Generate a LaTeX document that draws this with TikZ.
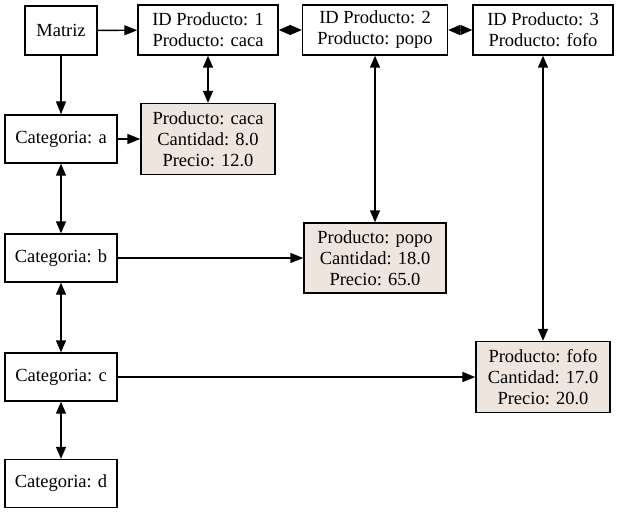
\documentclass[tikz,border=0pt]{standalone}
\usepackage{fontspec}
\setmainfont{Liberation Serif}
\usetikzlibrary{arrows.meta}
\definecolor{prodfill}{HTML}{EEE5DE}
\begin{document}
\begin{tikzpicture}[x=1pt,y=-1pt,
 box/.style={draw, line width=1.4pt, inner sep=0pt, align=center, font=\fontsize{18.5}{21}\selectfont},
 catbox/.style={box, minimum width=112pt, minimum height=48pt},
 idbox/.style={box, minimum height=50pt},
 prod/.style={box, fill=prodfill, minimum height=71pt},
 conn/.style={line width=1.4pt, -{Triangle[length=13pt,width=10pt]}},
 bi/.style={line width=1.4pt, {Triangle[length=12pt,width=10pt]}-{Triangle[length=12pt,width=10pt]}}]
\useasboundingbox (0,0) rectangle (617,513);
\node[box, minimum width=72pt, minimum height=49pt] (m) at (61,30.5) {Matriz};
\node[idbox, minimum width=140pt] (id1) at (208,30) {ID Producto: 1\\Producto: caca};
\node[idbox, minimum width=145pt] (id2) at (375,30) {ID Producto: 2\\Producto: popo};
\node[idbox, minimum width=140pt] (id3) at (543,30) {ID Producto: 3\\Producto: fofo};
\node[catbox] (ca) at (61,139) {Categoria: a};
\node[catbox] (cb) at (61,258) {Categoria: b};
\node[catbox] (cc) at (61,377) {Categoria: c};
\node[catbox] (cd) at (61,483.5) {Categoria: d};
\node[prod, minimum width=134pt] (p1) at (208,139) {Producto: caca\\Cantidad: 8.0\\Precio: 12.0};
\node[prod, minimum width=142pt, minimum height=70pt] (p2) at (375,258) {Producto: popo\\Cantidad: 18.0\\Precio: 65.0};
\node[prod, minimum width=134pt] (p3) at (543,377) {Producto: fofo\\Cantidad: 17.0\\Precio: 20.0};
\draw[conn] (m) -- (id1);
\draw[conn] (m) -- (ca);
\draw[bi] (id1) -- (id2);
\draw[bi] (id2) -- (id3);
\draw[bi] (id1) -- (p1);
\draw[bi] (id2) -- (p2);
\draw[bi] (id3) -- (p3);
\draw[conn] (ca) -- (p1);
\draw[conn] (cb) -- (p2);
\draw[conn] (cc) -- (p3);
\draw[bi] (ca) -- (cb);
\draw[bi] (cb) -- (cc);
\draw[bi] (cc) -- (cd);
\end{tikzpicture}
\end{document}
